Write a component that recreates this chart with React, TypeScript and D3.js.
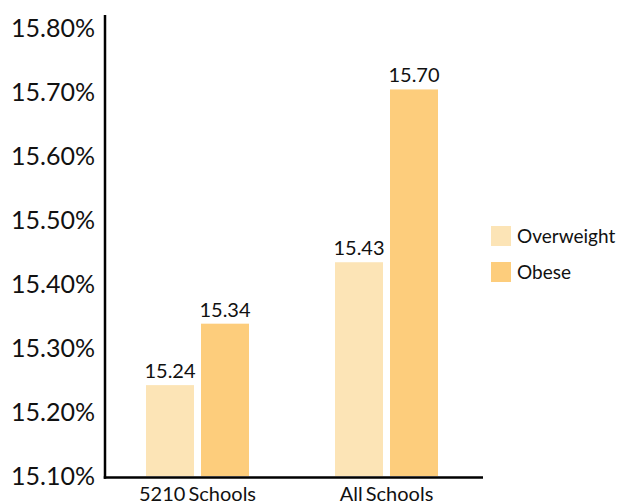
import React from "react";
import * as d3 from "d3";

const categories = ["5210 Schools", "All Schools"];
const series = ["Overweight", "Obese"];
const overweight = [15.242, 15.434];
const obese = [15.338, 15.704];
const yTicks = [15.1, 15.2, 15.3, 15.4, 15.5, 15.6, 15.7, 15.8];
const colors = ["#FCE4B6", "#FDCD7C"];

const W = 624;
const H = 504;
const FONT = "Lato, 'Open Sans', sans-serif";

export default function App() {
  const values = [overweight, obese];
  const y = d3.scaleLinear().domain([15.1, 15.8]).range([476, 28]);
  const x0 = d3.scaleBand<string>().domain(categories).range([103, 481]).paddingInner(0);
  const bw = x0.bandwidth();
  const x1 = d3
    .scaleBand<string>()
    .domain(series)
    .range([bw / 2 - 51.5, bw / 2 + 51.5])
    .paddingInner(7 / 55);
  const axisX = 105;
  const axisBottom = y(15.1) + 1.5;

  return (
    <svg
      width={W}
      height={H}
      style={{ position: "absolute", left: 0, top: 0, background: "#fff" }}
      fontFamily={FONT}
    >
      {yTicks.map((t) => (
        <text
          key={t}
          x={95}
          y={y(t)}
          dy="0.34em"
          textAnchor="end"
          fontSize={25}
          fill="#111"
        >
          {t.toFixed(2) + "%"}
        </text>
      ))}
      {categories.map((c, ci) =>
        series.map((s, si) => {
          const v = values[si][ci];
          const bx = (x0(c) as number) + (x1(s) as number);
          const top = y(v);
          return (
            <g key={c + s}>
              <rect
                x={bx}
                y={top}
                width={x1.bandwidth()}
                height={y(15.1) - top}
                fill={colors[si]}
              />
              <text
                x={bx + x1.bandwidth() / 2}
                y={top - 7}
                textAnchor="middle"
                fontSize={20}
                fill="#111"
              >
                {v.toFixed(2)}
              </text>
            </g>
          );
        })
      )}
      <line x1={axisX} x2={axisX} y1={15} y2={axisBottom + 1.25} stroke="#000" strokeWidth={2.5} />
      <line x1={axisX - 1.25} x2={483} y1={axisBottom} y2={axisBottom} stroke="#000" strokeWidth={2.5} />
      {categories.map((c) => (
        <text
          key={c}
          x={(x0(c) as number) + bw / 2}
          y={501}
          textAnchor="middle"
          fontSize={20}
          wordSpacing={-2}
          fill="#111"
        >
          {c}
        </text>
      ))}
      {series.map((s, si) => (
        <g key={s} transform={`translate(491, ${226 + si * 36})`}>
          <rect width={20} height={20} fill={colors[si]} />
          <text x={26} y={10} dy="0.35em" fontSize={19} fill="#111">
            {s}
          </text>
        </g>
      ))}
    </svg>
  );
}
